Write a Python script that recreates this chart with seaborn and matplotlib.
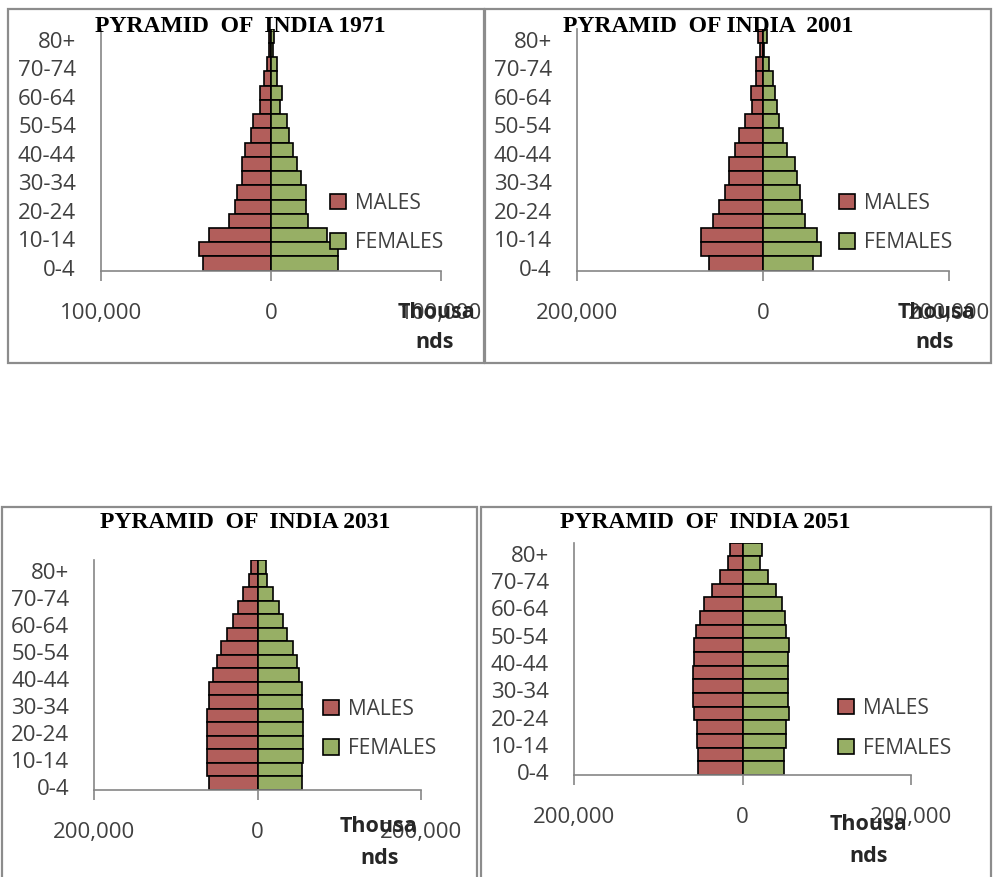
import matplotlib
matplotlib.use("Agg")
import matplotlib.pyplot as plt
import numpy as np
import pandas as pd
import seaborn as sns
from matplotlib.patches import Rectangle
from matplotlib.transforms import ScaledTranslation

# ---------------- data (thousands) ----------------
ages = ["0-4", "5-9", "10-14", "15-19", "20-24", "25-29", "30-34", "35-39",
        "40-44", "45-49", "50-54", "55-59", "60-64", "65-69", "70-74",
        "75-79", "80+"]

males_1971 = [40000, 42200, 36300, 24500, 21400, 20000, 17300, 17300, 15300,
              11800, 10400, 6700, 6700, 4000, 2600, 1200, 1000]
females_1971 = [39400, 39400, 33000, 21800, 20800, 20600, 17600, 15300, 12900,
                10400, 9200, 5300, 6600, 3500, 3500, 1200, 1800]

males_2001 = [58000, 66000, 66000, 53100, 46700, 40900, 35900, 35900, 29500,
              25200, 18700, 11500, 12300, 7200, 7200, 2900, 5000]
females_2001 = [54400, 62400, 58000, 45800, 42300, 39400, 36600, 34400, 25800,
                21500, 17200, 15000, 13500, 11400, 6500, 1700, 4300]

males_2031 = [59200, 61600, 61600, 61600, 61600, 61600, 59200, 59200, 54300,
              49400, 44900, 37100, 29800, 24500, 17600, 10200, 8200]
females_2031 = [53900, 53900, 56000, 56000, 56000, 56000, 53900, 53900, 51000,
                47800, 43700, 36300, 31400, 25700, 19200, 11800, 9800]

males_2051 = [52900, 52900, 54400, 54400, 57200, 58800, 59200, 59200, 57200,
              57200, 54800, 50900, 45400, 35900, 26400, 17000, 15000]
females_2051 = [49300, 49300, 51300, 51300, 54400, 53600, 53600, 53600, 53600,
                54400, 51700, 49700, 46900, 39400, 30000, 20500, 23300]

titles = ["PYRAMID  OF  INDIA 1971", "PYRAMID  OF INDIA  2001",
          "PYRAMID  OF  INDIA 2031", "PYRAMID  OF  INDIA 2051"]
axis_limits = [100000, 200000, 200000, 200000]
sex_labels = ["MALES", "FEMALES"]
unit_label = ["Thousa", "nds"]

# ---------------- style ----------------
W, H = 994, 877
sns.set_theme(style="white")
plt.rcParams['font.family'] = ['Open Sans', 'DejaVu Sans']

MALE_C = "#C0504D"
FEMALE_C = "#9BBB59"
AXIS_C = "#868686"
TEXT_C = "#404040"

fig = plt.figure(figsize=(W / 100, H / 100), dpi=100)


def box(l, t, r, b):
    return [l / W, 1 - b / H, (r - l) / W, (b - t) / H]


def fx(x):
    return x / W


def fy(y):
    return 1 - y / H


layout = [
    dict(ax=(101, 28.7, 441, 270.7), frame=(8, 9, 484, 363), title=(240, 27),
         legend=(330, 223), unit=((436, 313), (435, 343))),
    dict(ax=(576.7, 28.7, 949, 270.7), frame=(485, 9, 991, 363), title=(708, 27),
         legend=(839, 223), unit=((936, 313), (935, 343))),
    dict(ax=(94.3, 560, 421, 790), frame=(2, 507, 477, 884), title=(245, 522),
         legend=(323, 729), unit=((378, 826), (380, 858))),
    dict(ax=(574, 542.7, 911.3, 775), frame=(481, 507, 991, 884), title=(705, 522),
         legend=(838, 728.5), unit=((868, 824), (869, 857))),
]

series = [(males_1971, females_1971), (males_2001, females_2001),
          (males_2031, females_2031), (males_2051, females_2051)]

order = ages[::-1]  # 80+ at top
n = len(ages)

for i, lay in enumerate(layout):
    l, t, r, b = lay["frame"]
    fig.patches.append(Rectangle((fx(l), fy(b)), (r - l) / W, (b - t) / H,
                                 transform=fig.transFigure, fill=False,
                                 edgecolor="#8C8C8C", linewidth=1.6, zorder=0))

    males, females = series[i]
    df = pd.DataFrame({
        "age": ages * 2,
        "value": [-v for v in males] + list(females),
        "sex": [sex_labels[0]] * n + [sex_labels[1]] * n,
    })

    ax = fig.add_axes(box(*lay["ax"]))
    sns.barplot(data=df, x="value", y="age", hue="sex", order=order,
                hue_order=sex_labels, palette={sex_labels[0]: MALE_C, sex_labels[1]: FEMALE_C},
                dodge=False, width=1.0, edgecolor="black", linewidth=1.2,
                orient="h", errorbar=None, ax=ax)

    lim = axis_limits[i]
    ax.set_xlim(-lim, lim)
    ax.set_ylim(n - 0.5, -0.5)
    ax.set_xlabel("")
    ax.set_ylabel("")
    ax.set_facecolor("none")

    ax.set_xticks([-lim, 0, lim])
    ax.set_xticklabels([f"{abs(v):,}" for v in [-lim, 0, lim]])
    idx = list(range(0, n, 2))
    ax.set_yticks([n - 1 - k for k in idx])
    ax.set_yticklabels([ages[k] for k in idx])

    for s in ["top", "right"]:
        ax.spines[s].set_visible(False)
    for s in ["left", "bottom"]:
        ax.spines[s].set_visible(True)
        ax.spines[s].set_color(AXIS_C)
        ax.spines[s].set_linewidth(1.2)

    ax.tick_params(axis="x", bottom=True, length=7, width=1.2, color=AXIS_C,
                   direction="out", pad=16, labelsize=16, labelcolor=TEXT_C)
    ax.tick_params(axis="y", left=False, length=0, pad=18, labelsize=16,
                   labelcolor=TEXT_C)
    off = ScaledTranslation(0, -0.04, fig.dpi_scale_trans)
    for lab in ax.get_yticklabels():
        lab.set_transform(lab.get_transform() + off)

    handles, labels = ax.get_legend_handles_labels()
    if ax.get_legend() is not None:
        ax.get_legend().remove()
    lx, ly = lay["legend"]
    ax.legend(handles, labels, loc="center left",
              bbox_to_anchor=(fx(lx), fy(ly)), bbox_transform=fig.transFigure,
              frameon=False, fontsize=15, labelcolor=TEXT_C,
              handlelength=0.75, handleheight=0.75, handletextpad=0.45,
              labelspacing=0.9, borderpad=0, borderaxespad=0)

    tx, ty = lay["title"]
    fig.text(fx(tx), fy(ty), titles[i], ha="center", va="center",
             fontfamily="Liberation Serif", fontweight="bold", fontsize=17,
             color="black")

    (ux1, uy1), (ux2, uy2) = lay["unit"]
    fig.text(fx(ux1), fy(uy1), unit_label[0], ha="center", va="center",
             fontweight="bold", fontsize=15.5, color="#262626")
    fig.text(fx(ux2), fy(uy2), unit_label[1], ha="center", va="center",
             fontweight="bold", fontsize=15.5, color="#262626")

fig.savefig("out.png", dpi=100)
